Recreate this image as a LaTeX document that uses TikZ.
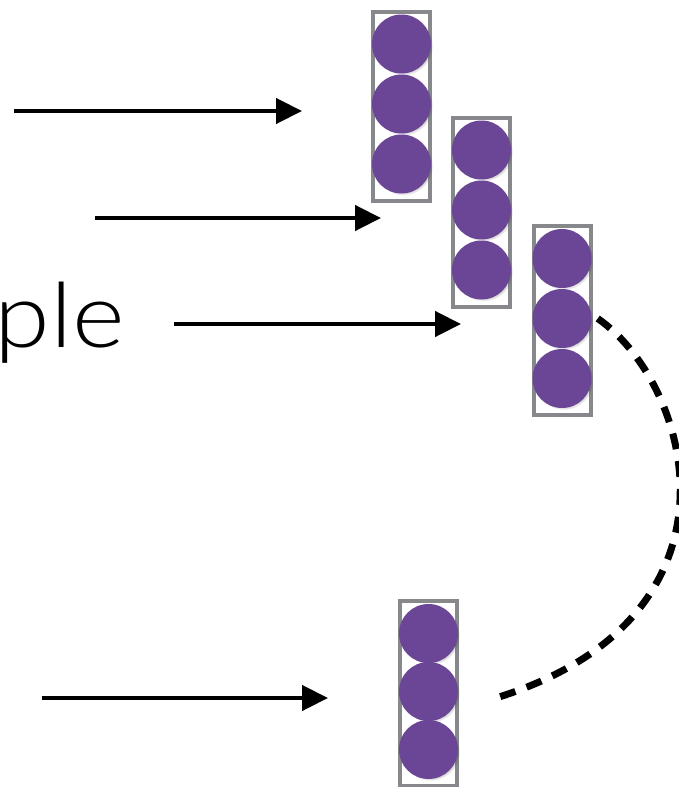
\documentclass[tikz,border=0pt]{standalone}
\usepackage{fontspec}
\usepackage{graphicx}
\newfontfamily\lightsans{Lato}[UprightFont={* Light}]
\usetikzlibrary{arrows.meta,shadows}

\definecolor{beadpurple}{RGB}{108,70,150}
\definecolor{framegray}{RGB}{134,136,139}

\tikzset{
  stackframe/.style={draw=framegray, line width=4pt, fill=white,
    minimum width=57pt, inner sep=0pt, rectangle},
  bead/.style={circle, fill=beadpurple, minimum size=59pt, inner sep=0pt,
    circular drop shadow={shadow xshift=2pt, shadow yshift=-2pt,
      opacity=0.22, fill=black, shadow scale=1.0}},
  feed/.style={line width=4.5pt, -{Triangle[length=26pt,width=25pt]}},
  hop/.style={line width=7pt, dash pattern=on 16pt off 12pt},
}

% a framed column of three beads: name, x, y of the top bead, bead spacing
\newcommand{\beadstack}[4]{%
  \pgfmathsetmacro{\stackh}{2*#4+69}%
  \pgfmathsetmacro{\stackc}{#3+#4+2}%
  \node[stackframe, minimum height=\stackh pt] (#1) at (#2,\stackc) {};
  \foreach \k in {1,2,3} {
    \node[bead] (#1-\k) at (#2,{#3+(\k-1)*#4}) {};
  }%
}

\begin{document}
\begin{tikzpicture}[x=1pt, y=-1pt]
  \useasboundingbox (0,0) rectangle (679,787);
  \clip (0,0) rectangle (679,787);

  % bead columns
  \beadstack{s1}{401.5}{44}{60}
  \beadstack{s2}{481.5}{150}{60}
  \beadstack{s3}{562}{258.5}{60}
  \beadstack{s4}{428.5}{633.5}{58}

  % label
  \node[anchor=base west, inner sep=0pt,
        font=\lightsans\fontsize{90}{100}\selectfont] (lbl) at (-5.5,347)
        {\scalebox{1.12}[1]{ple}};

  % arrow ends
  \coordinate (a1s) at (14,111);  \coordinate (a1e) at (302,111);
  \coordinate (a2s) at (95,218);  \coordinate (a2e) at (381,218);
  \coordinate (a3s) at (174,324); \coordinate (a3e) at (461,324);
  \coordinate (a4s) at (42,698);  \coordinate (a4e) at (328,698);

  \draw[feed] (a1s) -- (a1e);
  \draw[feed] (a2s) -- (a2e);
  \draw[feed] (a3s) -- (a3e);
  \draw[feed] (a4s) -- (a4e);

  % dashed hop from the third column back to the last one
  \draw[hop] ([xshift=6pt]s3-2.east) .. controls +(95,66) and +(262,-80)
    .. ([xshift=36pt,yshift=-7pt]s4-2.east);
\end{tikzpicture}
\end{document}
